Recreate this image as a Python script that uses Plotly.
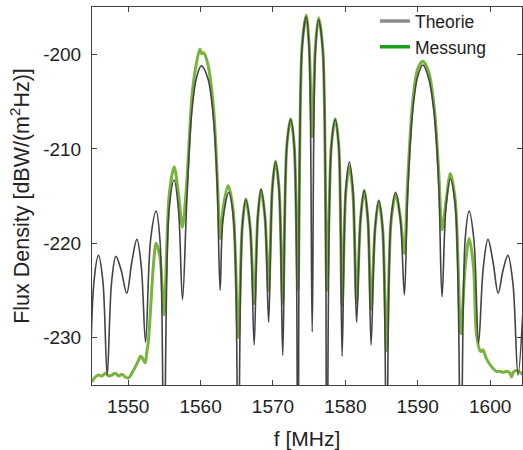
import plotly.graph_objects as go

# Theory curve (frequency MHz, flux density dB)
theory_f = [1544.6, 1545.25, 1545.9, 1546.5, 1547.1, 1547.7, 1548.3, 1549.0, 1549.8, 1550.5,
            1551.2, 1551.8, 1552.4, 1553.1, 1553.85, 1554.4, 1554.95, 1555.65, 1556.35, 1556.95,
            1557.5, 1558.1, 1558.8, 1559.45, 1560.1, 1561.0, 1561.8, 1562.3, 1562.7, 1563.1,
            1563.9, 1564.6, 1565.2, 1565.75, 1566.25, 1566.85, 1567.4, 1567.9, 1568.35, 1568.9,
            1569.4, 1569.9, 1570.35, 1570.85, 1571.35, 1571.9, 1572.45, 1572.95, 1573.45, 1574.0,
            1574.6, 1575.0, 1575.42, 1575.85, 1576.3, 1576.9, 1577.45, 1578.05, 1578.6, 1579.1,
            1579.55, 1580.05, 1580.55, 1581.05, 1581.55, 1582.1, 1582.6, 1583.1, 1583.55, 1584.1,
            1584.6, 1585.15, 1585.7, 1586.3, 1586.95, 1587.6, 1588.15, 1588.6, 1589.3, 1590.0,
            1590.7, 1591.5, 1592.3, 1592.9, 1593.35, 1593.9, 1594.5, 1595.2, 1595.95, 1596.55,
            1597.1, 1597.75, 1598.4, 1599.05, 1599.7, 1600.4, 1601.1, 1601.8, 1602.45, 1603.15,
            1603.85, 1604.6]
theory_db = [-245, -224.3, -221.3, -224.0, -234.0, -224.2, -221.4, -222.8, -225.3, -222.0,
             -219.6, -222.4, -230.5, -219.6, -216.6, -219.8, -245, -216.5, -213.3, -216.5,
             -226.0, -215.5, -206.0, -202.4, -201.2, -202.5, -207.0, -214.0, -225.0, -217.5,
             -214.6, -218.0, -245, -218.4, -215.4, -218.4, -230.8, -217.3, -214.3, -217.3,
             -228.4, -214.4, -211.4, -214.4, -231.9, -209.9, -206.9, -209.9, -245, -199.5,
             -196.0, -199.5, -229.4, -199.8, -196.3, -199.8, -245, -209.9, -206.9, -209.9,
             -232.0, -214.4, -211.4, -214.4, -228.4, -217.4, -214.4, -217.4, -230.8, -218.5,
             -215.5, -218.5, -245, -217.6, -214.6, -217.5, -225.5, -215.0, -206.0, -202.3,
             -201.1, -202.5, -206.5, -214.0, -225.7, -216.2, -213.2, -216.2, -245, -219.6,
             -216.6, -219.6, -230.6, -222.6, -219.6, -222.0, -225.3, -222.8, -221.3, -224.3,
             -234.0, -226.0]

# Measurement curve
meas_f = [1545.0, 1545.46, 1545.92, 1546.38, 1546.84, 1547.3, 1547.76, 1548.2, 1548.7, 1549.14,
          1549.6, 1550.06, 1550.5, 1551.0, 1551.45, 1551.7, 1551.9, 1552.1, 1552.35, 1552.55,
          1552.8, 1553.5, 1553.85, 1554.4, 1554.95, 1555.65, 1556.35, 1556.95, 1557.5, 1558.1,
          1558.8, 1559.45, 1559.9, 1560.15, 1560.4, 1561.0, 1561.8, 1562.3, 1562.7, 1563.1,
          1563.8, 1564.5, 1565.2, 1565.75, 1566.25, 1566.85, 1567.4, 1567.9, 1568.35, 1568.9,
          1569.4, 1569.9, 1570.35, 1570.85, 1571.35, 1571.9, 1572.45, 1572.95, 1573.45, 1574.0,
          1574.6, 1575.0, 1575.42, 1575.85, 1576.3, 1576.9, 1577.45, 1578.05, 1578.6, 1579.1,
          1579.55, 1580.05, 1580.55, 1581.05, 1581.55, 1582.1, 1582.6, 1583.1, 1583.55, 1584.1,
          1584.6, 1585.15, 1585.7, 1586.3, 1586.95, 1587.6, 1588.15, 1588.6, 1589.3, 1590.0,
          1590.7, 1591.5, 1592.3, 1592.9, 1593.35, 1593.9, 1594.5, 1595.2, 1595.95, 1596.55,
          1597.1, 1597.7, 1598.1, 1598.6, 1598.8, 1599.0, 1599.45, 1599.9, 1600.4, 1600.85,
          1601.3, 1601.8, 1602.3, 1602.75, 1602.95, 1603.2, 1603.65, 1604.1, 1604.5]
meas_db = [-234.7, -234.2, -234.0, -234.1, -233.8, -234.1, -234.0, -233.8, -234.1, -233.9,
           -234.2, -234.3, -233.8, -233.1, -232.4, -232.0, -232.1, -232.4, -232.7, -231.7,
           -230.3, -222.2, -220.0, -221.5, -227.6, -215.0, -211.9, -214.8, -218.3, -213.5,
           -204.5, -200.8, -199.4, -199.9, -199.8, -201.0, -205.8, -213.0, -219.5, -216.3,
           -213.9, -216.5, -230.0, -218.3, -215.3, -218.3, -226.4, -217.3, -214.3, -217.3,
           -225.0, -214.3, -211.3, -214.3, -226.4, -209.8, -206.8, -209.8, -225.0, -199.3,
           -195.8, -199.0, -208.7, -199.3, -196.1, -199.6, -225.0, -209.8, -206.8, -209.8,
           -226.6, -214.8, -211.8, -214.8, -226.3, -217.4, -214.4, -217.4, -227.0, -218.5,
           -215.5, -218.5, -231.4, -217.8, -214.8, -217.3, -221.1, -213.5, -205.0, -201.5,
           -200.7, -201.8, -205.8, -212.5, -218.6, -215.6, -212.6, -215.6, -229.6, -222.5,
           -219.5, -222.5, -229.6, -231.4, -231.5, -231.3, -232.2, -232.8, -233.3, -233.6,
           -233.6, -233.7, -233.6, -233.8, -234.2, -233.7, -233.5, -233.7, -233.9]

x_ticks = [1550, 1560, 1570, 1580, 1590, 1600]
y_ticks = [-230, -220, -210, -200]
y_tick_labels = ["-230", "-220", "-210", "-200"]
series_names = ["Theorie", "Messung"]

FONT = "Liberation Sans, Arial, sans-serif"
fig = go.Figure()

fig.add_trace(go.Scatter(x=meas_f, y=meas_db, mode="lines", showlegend=False,
                         line=dict(color="#78b43c", width=3, shape="spline", smoothing=0.8)))
fig.add_trace(go.Scatter(x=theory_f, y=theory_db, mode="lines", showlegend=False,
                         line=dict(color="#444444", width=1.6, shape="spline", smoothing=1.0)))
# legend entries
fig.add_trace(go.Scatter(x=[None], y=[None], mode="lines", name=series_names[0],
                         line=dict(color="#8c8c8c", width=3.5)))
fig.add_trace(go.Scatter(x=[None], y=[None], mode="lines", name=series_names[1],
                         line=dict(color="#1a9e1a", width=3.5)))

axis_common = dict(showline=True, linecolor="#404040", linewidth=1, mirror="ticks",
                   ticks="inside", ticklen=5, tickcolor="#404040", showgrid=False,
                   zeroline=False, automargin=False,
                   tickfont=dict(size=19, color="#222", family=FONT))

fig.update_xaxes(range=[1545, 1604.4], tickvals=x_ticks, ticklabelstandoff=4, **axis_common,
                 title=dict(text="f [MHz]", font=dict(size=21, color="#222", family=FONT), standoff=15))
fig.update_yaxes(range=[-235.05, -194.95], tickvals=y_ticks, ticktext=y_tick_labels,
                 ticklabelstandoff=6, **axis_common,
                 title=dict(text="Flux Density [dBW/(m<sup>2</sup>Hz)]",
                            font=dict(size=21.5, color="#222", family=FONT), standoff=7))

fig.update_layout(
    width=523, height=450,
    margin=dict(l=92, r=1, t=7, b=65),
    plot_bgcolor="white", paper_bgcolor="white",
    font=dict(family=FONT, color="#222"),
    legend=dict(x=0.658, y=1.01, xanchor="left", yanchor="top", bgcolor="rgba(0,0,0,0)",
                font=dict(size=17.5, color="#222", family=FONT), tracegroupgap=0),
)

fig.write_html("out.html", config={"displayModeBar": False},
               post_script="document.body.style.margin='0';")
